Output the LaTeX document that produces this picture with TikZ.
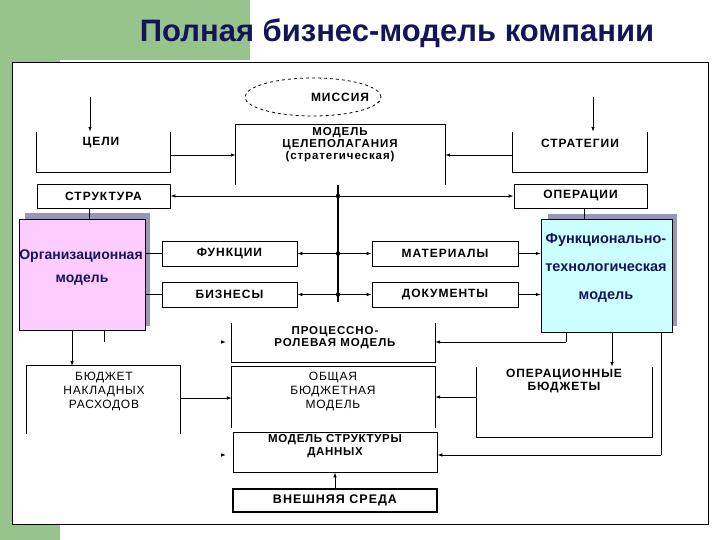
\documentclass[tikz,border=0pt]{standalone}
\usepackage{fontspec}
\setmainfont{Liberation Sans}
\usetikzlibrary{shapes.geometric,arrows.meta}
\definecolor{bggreen}{RGB}{150,196,140}
\definecolor{titleblue}{RGB}{20,20,90}
\definecolor{pinkm}{RGB}{255,204,255}
\definecolor{cyanm}{RGB}{204,255,255}
\definecolor{shadowc}{RGB}{150,150,185}
\begin{document}
\begin{tikzpicture}[x=1pt,y=-1pt,
  lbl/.style={font=\bfseries\fontsize{12}{13.5}\selectfont\addfontfeatures{LetterSpace=8},align=center,inner sep=0pt},
  thin/.style={font=\fontsize{12}{14}\selectfont\addfontfeatures{LetterSpace=6},align=center,inner sep=0pt},
  bx/.style={draw,line width=0.8pt,minimum width=#1,inner sep=0pt},
  ob/.style={minimum width=#1,inner sep=0pt},
  arr/.style={line width=0.8pt,-{Latex[length=5pt,width=3.5pt]}},
  ln/.style={line width=0.8pt},
  big/.style={align=center,inner sep=0pt,text=titleblue}]
\useasboundingbox (0,0) rectangle (720,540);
\fill[bggreen] (0,0) rectangle (60,540);
\fill[bggreen] (0,0) rectangle (250,60);
\node[font=\bfseries\fontsize{31}{34}\selectfont,text=titleblue] (title) at (397,33) {Полная бизнес-модель компании};
\draw[fill=white,line width=0.8pt] (12,62) rectangle (708,524);

% mission
\node[draw,dashed,ellipse,minimum width=136,minimum height=38,ln] (mis) at (313,97) {};
\node[lbl] at (340,97) {МИССИЯ};
% goals
\node[ob=133,minimum height=40] (goal) at (103.5,152) {};
\draw[ln] (goal.north west)--(goal.south west)--(goal.south east)--(goal.north east);
\node[lbl] at (101,143) {ЦЕЛИ};
\coordinate (gtop) at (90,97);
\draw[arr] (gtop) -- (gtop|-goal.north);
% model
\node[ob=209,minimum height=60] (mod) at (340.5,155) {};
\draw[ln] (mod.south west)--(mod.north west)--(mod.north east)--(mod.south east);
\node[lbl,font=\bfseries\fontsize{11.5}{12}\selectfont\addfontfeatures{LetterSpace=8}] at (340,145) {МОДЕЛЬ\\ЦЕЛЕПОЛАГАНИЯ\\(стратегическая)};
% strategies
\node[ob=134,minimum height=40] (str) at (580,152) {};
\draw[ln] (str.north west)--(str.south west)--(str.south east)--(str.north east);
\node[lbl] at (580,143) {СТРАТЕГИИ};
\coordinate (stop) at (593,97);
\draw[arr] (stop) -- (stop|-str.north);
\draw[arr] (goal.east) ++(0,3) coordinate (g1) -- (g1-|mod.west);
\draw[arr] (str.east) ++(-134,3) coordinate (s1) -- (s1-|mod.east);
% bus
\coordinate (bt) at (338,185);
\coordinate (bb) at (338,302);
\draw[line width=1.6pt] (bt) -- (bb);
% structure / operations
\node[bx=133,minimum height=24] (stru) at (103.5,196) {};
\node[lbl] at (stru) {СТРУКТУРА};
\node[bx=133,minimum height=24] (oper) at (580.5,196) {};
\node[lbl] at (oper) {ОПЕРАЦИИ};
\draw[arr] (338,196) -- (stru.east);
\draw[arr] (338,196) -- (oper.west);
% org model
\fill[shadowc] (25,213) rectangle (150,326);
\node[draw,fill=pinkm,minimum width=126,minimum height=111,inner sep=0pt] (org) at (82,274.5) {};
\node[big,font=\bfseries\fontsize{14}{16}\selectfont] at (81,256) {Организационная};
\node[big,font=\bfseries\fontsize{14}{16}\selectfont] at (82,280) {модель};
\draw[ln] (stru.south-|89,0) -- (org.north-|89,0);
% func tech model
\fill[shadowc] (548,214) rectangle (677,326);
\node[draw,fill=cyanm,minimum width=131,minimum height=113,inner sep=0pt] (ftm) at (606.5,275.5) {};
\node[big,font=\bfseries\fontsize{14.5}{16}\selectfont] at (606,240) {Функционально-};
\node[big,font=\bfseries\fontsize{14.5}{16}\selectfont] at (606,268) {технологическая};
\node[big,font=\bfseries\fontsize{14.5}{16}\selectfont] at (606,297) {модель};
\draw[ln] (oper.south-|584,0) -- (ftm.north-|584,0);
% four boxes
\node[bx=135,minimum height=25] (fun) at (229.5,253.5) {};
\node[lbl] at (fun) {ФУНКЦИИ};
\node[bx=135,minimum height=25] (bus) at (229.5,294.5) {};
\node[lbl] at (bus) {БИЗНЕСЫ};
\node[bx=146,minimum height=25] (mat) at (445,253.5) {};
\node[lbl] at (mat) {МАТЕРИАЛЫ};
\node[bx=146,minimum height=25] (doc) at (445,294.5) {};
\node[lbl] at (doc) {ДОКУМЕНТЫ};
\draw[arr] (338,253.5) -- (fun.east);
\draw[arr] (338,294.5) -- (bus.east);
\draw[arr] (338,253.5) -- (mat.west);
\draw[arr] (338,294.5) -- (doc.west);
\foreach \y in {196,253.5,294.5} \fill (338,\y) circle (2.2pt);
\draw[ln] (org.east|-fun) -- (fun.west);
\draw[ln] (org.east|-bus) -- (bus.west);
\draw[arr] (mat.east) -- (ftm.west|-mat);
\draw[arr] (doc.east) -- (ftm.west|-doc);
% process-role
\node[ob=203,minimum height=39] (prm) at (333.5,342.5) {};
\draw[ln] (prm.north west)--(prm.south west)--(prm.south east)--(prm.north east);
\node[lbl,font=\bfseries\fontsize{11.5}{12}\selectfont\addfontfeatures{LetterSpace=8}] at (335,338) {ПРОЦЕССНО-\\РОЛЕВАЯ МОДЕЛЬ};
\coordinate (fp) at (566,332);
\draw[ln] (fp) -- (566,342);
\draw[arr] (566,342) -- (prm.east|-0,342);
\coordinate (pl) at (222,342);
\draw[arr] (pl) -- ++(4,0);
% overhead
\draw[arr] (org.south-|72,0) -- (72,366);
\node[ob=153,minimum height=68] (ovh) at (103.5,400) {};
\draw[ln] (ovh.south west)--(ovh.north west)--(ovh.north east)--(ovh.south east);
\node[thin] at (104,392) {БЮДЖЕТ\\НАКЛАДНЫХ\\РАСХОДОВ};
\draw[ln] (104,330) -- (104,342);
% general budget
\node[ob=203,minimum height=61] (gbm) at (333.5,397.5) {};
\draw[ln] (gbm.south west)--(gbm.north west)--(gbm.north east)--(gbm.south east);
\node[thin] at (333,392) {ОБЩАЯ\\БЮДЖЕТНАЯ\\МОДЕЛЬ};
\draw[arr] (ovh.east|-0,398) -- (gbm.west|-0,398);
% operational budgets
\node[ob=175,minimum height=70] (opb) at (564.5,402) {};
\draw[ln] (opb.north west)--(opb.south west)--(opb.south east)--(opb.north east);
\node[lbl] at (564,381) {ОПЕРАЦИОННЫЕ\\БЮДЖЕТЫ};
\draw[arr] (ftm.south-|612,0) -- (opb.north-|612,0);
\draw[arr] (opb.west|-0,397) -- (gbm.east|-0,397);
% data structure
\node[bx=204,minimum height=40] (dsm) at (335,452) {};
\node[lbl,font=\bfseries\fontsize{11.5}{12.5}\selectfont\addfontfeatures{LetterSpace=6}] at (335,446) {МОДЕЛЬ СТРУКТУРЫ\\ДАННЫХ};
\draw[ln] (ftm.south-|661,0) -- (661,455);
\draw[arr] (661,455) -- (dsm.east|-0,455);
\coordinate (dl) at (222,455);
\draw[arr] (dl) -- ++(4,0);
% environment
\node[bx=204,minimum height=23,line width=1.1pt] (env) at (335,500.5) {};
\node[lbl,font=\bfseries\fontsize{12.5}{14}\selectfont\addfontfeatures{LetterSpace=8}] at (env) {ВНЕШНЯЯ СРЕДА};
\draw[arr] (env.north) -- (dsm.south);
\end{tikzpicture}
\end{document}
